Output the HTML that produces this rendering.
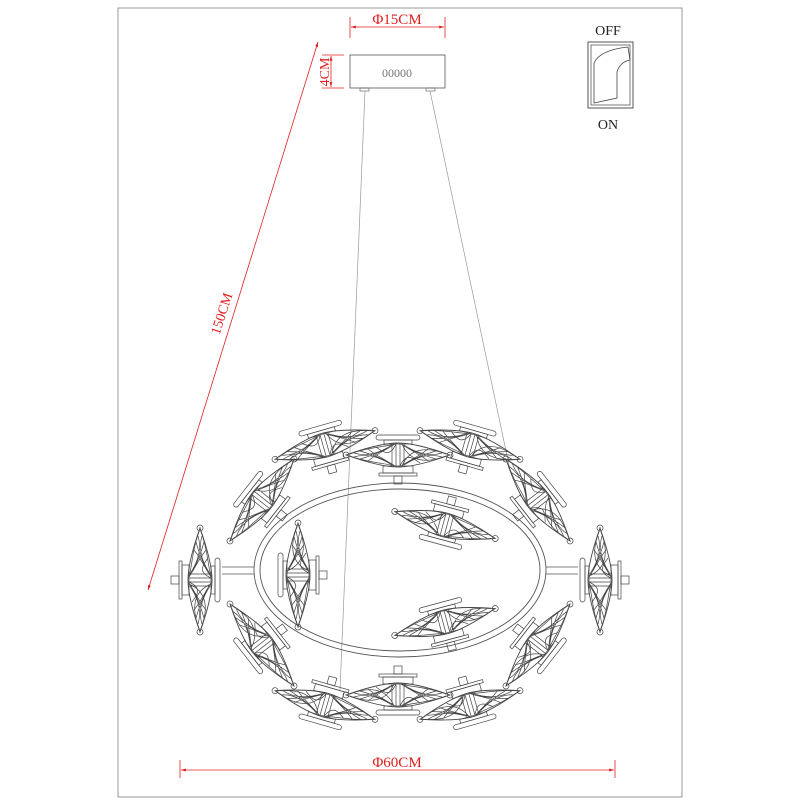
<!DOCTYPE html>
<html><head><style>body{margin:0;background:#fff}svg{display:block}</style></head><body>
<svg width="800" height="800" viewBox="0 0 800 800" xmlns="http://www.w3.org/2000/svg" font-family="Liberation Serif, serif">
<defs>
<marker id="ar" viewBox="0 0 10 10" refX="10" refY="5" markerWidth="9" markerHeight="6" orient="auto-start-reverse"><path d="M0,2 L10,5 L0,8 z" fill="#e02020"/></marker>
<g id="lamp" fill="none" stroke="#444" stroke-width="0.7">
 <path d="M-52,0 C-35,-6 -15,-12 0,-12 C15,-12 35,-6 52,0 C35,6 15,12 0,12 C-15,12 -35,6 -52,0z" stroke-width="0.9"/>
 <path d="M-48,-1 C-30,-8 -12,-8 -4,-11 M-48,1 C-30,8 -12,8 -4,11 M48,-1 C30,-8 12,-8 4,11 M48,1 C30,8 12,8 4,-11
 M-44,-2 C-28,3 -14,-5 -6,-10 M-44,2 C-28,-3 -14,5 -6,10 M44,-2 C28,3 14,-5 6,-10 M44,2 C28,-3 14,5 6,10
 M-38,-4 C-24,0 -14,4 -8,9 M38,-4 C24,0 14,4 8,9 M-38,4 C-24,0 -14,-4 -8,-9 M38,4 C24,0 14,-4 8,-9
 M-30,-6 C-20,2 -10,6 -3,11 M30,-6 C20,2 10,6 3,11 M-30,6 C-20,-2 -10,-6 -3,-11 M30,6 C20,-2 10,-6 3,-11
 M-22,-8 C-14,-2 -8,2 -2,-11 M22,8 C14,2 8,-2 2,11 M-2,-12 L-2,12 M2,-12 L2,12 M-6,-11 L-6,11 M6,-11 L6,11"/>
 <circle cx="-52" cy="0" r="3"/><circle cx="52" cy="0" r="3"/>
 <rect x="-22" y="-20" width="44" height="5" rx="2.5"/>
 <rect x="-14" y="-15" width="28" height="4"/>
 <rect x="-15" y="11" width="30" height="7"/>
 <rect x="-19" y="18" width="38" height="3"/>
 <rect x="-4" y="21" width="8" height="8"/>
</g>
</defs>
<rect x="118" y="8" width="564" height="789" fill="none" stroke="#999" stroke-width="1"/>
<!-- canopy -->
<line x1="350" y1="17" x2="350" y2="38" stroke="#e02020" stroke-width="0.8"/>
<line x1="445" y1="17" x2="445" y2="38" stroke="#e02020" stroke-width="0.8"/>
<line x1="351" y1="27" x2="444" y2="27" stroke="#e02020" stroke-width="0.8" marker-start="url(#ar)" marker-end="url(#ar)"/>
<text x="397" y="24" font-size="15" fill="#e02020" text-anchor="middle">Φ15CM</text>
<line x1="322" y1="55" x2="344" y2="55" stroke="#e02020" stroke-width="0.8"/>
<line x1="322" y1="88" x2="344" y2="88" stroke="#e02020" stroke-width="0.8"/>
<line x1="331" y1="56" x2="331" y2="87" stroke="#e02020" stroke-width="0.8" marker-start="url(#ar)" marker-end="url(#ar)"/>
<text transform="translate(329,72) rotate(-90)" font-size="14" fill="#e02020" text-anchor="middle">4CM</text>
<rect x="350" y="55" width="95" height="33" fill="none" stroke="#555" stroke-width="0.8"/>
<text x="397" y="77" font-size="12" fill="#777" text-anchor="middle">00000</text>
<rect x="360" y="88" width="9" height="3" fill="none" stroke="#555" stroke-width="0.6"/>
<rect x="426" y="88" width="9" height="3" fill="none" stroke="#555" stroke-width="0.6"/>
<line x1="365" y1="91" x2="340" y2="690" stroke="#999" stroke-width="0.7"/>
<line x1="430" y1="91" x2="510" y2="470" stroke="#999" stroke-width="0.7"/>
<!-- 150cm -->
<line x1="318" y1="42" x2="148" y2="590" stroke="#e02020" stroke-width="0.8" marker-start="url(#ar)" marker-end="url(#ar)"/>
<text transform="translate(226,315) rotate(-72)" font-size="14" fill="#e02020" text-anchor="middle">150CM</text>
<!-- switch -->
<text x="608" y="35" font-size="14" fill="#222" text-anchor="middle">OFF</text>
<text x="608" y="129" font-size="14" fill="#222" text-anchor="middle">ON</text>
<rect x="588" y="42" width="45" height="66" fill="none" stroke="#444" stroke-width="0.9"/>
<rect x="591" y="45" width="39" height="60" fill="none" stroke="#444" stroke-width="0.7"/>
<path d="M594,63 Q600,50 628,47 L630,60 Q620,62 617,72 L617,98 L594,103z" fill="none" stroke="#444" stroke-width="0.8"/>
<!-- ring -->
<ellipse cx="400" cy="570" rx="146" ry="87" fill="none" stroke="#555" stroke-width="0.9"/>
<ellipse cx="400" cy="570" rx="140" ry="81" fill="none" stroke="#555" stroke-width="0.9"/>
<g stroke="#555" stroke-width="0.8" fill="none">
<line x1="222" y1="567" x2="254" y2="567"/><line x1="222" y1="574" x2="254" y2="574"/>
<line x1="546" y1="567" x2="578" y2="567"/><line x1="546" y1="574" x2="578" y2="574"/>
</g>
<use href="#lamp" transform="translate(398,455)"/>
<use href="#lamp" transform="translate(325,445) rotate(-16)"/>
<use href="#lamp" transform="translate(470,445) rotate(16)"/>
<use href="#lamp" transform="translate(262,500) rotate(-52)"/>
<use href="#lamp" transform="translate(538,500) rotate(52)"/>
<use href="#lamp" transform="translate(200,580) rotate(90)"/>
<use href="#lamp" transform="translate(600,580) rotate(-90)"/>
<use href="#lamp" transform="translate(298,575) rotate(-90)"/>
<use href="#lamp" transform="translate(445,525) rotate(195)"/>
<use href="#lamp" transform="translate(445,622) rotate(-15)"/>
<use href="#lamp" transform="translate(262,645) rotate(232)"/>
<use href="#lamp" transform="translate(538,645) rotate(128)"/>
<use href="#lamp" transform="translate(398,695) rotate(180)"/>
<use href="#lamp" transform="translate(325,705) rotate(196)"/>
<use href="#lamp" transform="translate(470,705) rotate(164)"/>
<!-- 60cm -->
<line x1="180" y1="760" x2="180" y2="778" stroke="#e02020" stroke-width="0.8"/>
<line x1="615" y1="760" x2="615" y2="778" stroke="#e02020" stroke-width="0.8"/>
<line x1="181" y1="770" x2="614" y2="770" stroke="#e02020" stroke-width="0.8" marker-start="url(#ar)" marker-end="url(#ar)"/>
<text x="397" y="767" font-size="15" fill="#e02020" text-anchor="middle">Φ60CM</text>
</svg>
</body></html>
